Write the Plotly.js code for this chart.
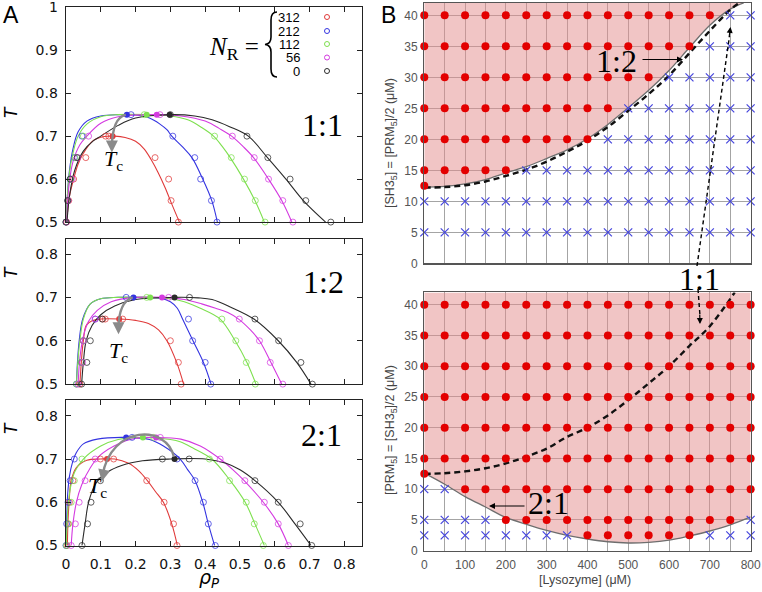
<!DOCTYPE html>
<html><head><meta charset="utf-8">
<script src="https://cdn.plot.ly/plotly-3.0.1.min.js"></script>
<style>html,body{margin:0;padding:0;background:#fff}#chart{width:762px;height:592px}</style>
</head><body><div id="chart"></div>
<script>
// ================= Panel A data (rho_P vs T) =================
const nrValues = ['312','212','112','56','0'];
const ratioLabels = ['1:1','1:2','2:1'];

// ---- ratio 1:1 ----
const a11RedRho = [0.002,0.008,0.022,0.057,0.114,0.123,0.256,0.295,0.302,0.323];
const a11RedT   = [0.5,0.55,0.6,0.65,0.7,0.7,0.65,0.6,0.55,0.5];
const a11RedFitRho = [0.002,0.01,0.022,0.035,0.05,0.079,0.11,0.14,0.17,0.2,0.225,0.245,0.265,0.285,0.305,0.326];
const a11RedFitT   = [0.5,0.56,0.6,0.635,0.66,0.69,0.699,0.7,0.697,0.688,0.67,0.645,0.615,0.58,0.54,0.5];
const a11BlueRho = [0,0.005,0.012,0.024,0.046,0.187,0.307,0.37,0.387,0.418,0.434];
const a11BlueT   = [0.5,0.55,0.6,0.65,0.7,0.75,0.7,0.65,0.6,0.55,0.5];
const a11BlueFitRho = [0.001,0.004,0.01,0.02,0.035,0.06,0.1,0.15,0.2,0.24,0.27,0.29,0.304,0.335,0.362,0.393,0.419,0.435];
const a11BlueFitT   = [0.5,0.56,0.62,0.67,0.71,0.735,0.747,0.75,0.749,0.742,0.728,0.715,0.7,0.675,0.65,0.6,0.55,0.5];
const a11GreenRho = [0,0.005,0.014,0.026,0.05,0.225,0.427,0.475,0.513,0.544,0.572];
const a11GreenT   = [0.5,0.55,0.6,0.65,0.7,0.75,0.7,0.65,0.6,0.55,0.5];
const a11GreenFitRho = [0.001,0.004,0.01,0.02,0.035,0.06,0.1,0.15,0.23,0.3,0.35,0.39,0.424,0.45,0.472,0.51,0.543,0.57];
const a11GreenFitT   = [0.5,0.56,0.615,0.66,0.7,0.728,0.745,0.75,0.75,0.747,0.738,0.72,0.7,0.675,0.65,0.6,0.55,0.5];
const a11MagRho = [0.001,0.006,0.018,0.034,0.065,0.27,0.478,0.541,0.582,0.623,0.652];
const a11MagT   = [0.5,0.55,0.6,0.65,0.7,0.75,0.7,0.65,0.6,0.55,0.5];
const a11MagFitRho = [0.002,0.008,0.02,0.04,0.06,0.1,0.15,0.26,0.33,0.4,0.44,0.476,0.51,0.539,0.582,0.62,0.649];
const a11MagFitT   = [0.5,0.58,0.64,0.68,0.7,0.73,0.745,0.75,0.747,0.735,0.718,0.7,0.675,0.65,0.6,0.55,0.5];
const a11BlackRho = [0,0.005,0.012,0.032,0.3,0.52,0.58,0.644,0.689,0.761];
const a11BlackT   = [0.5,0.55,0.6,0.65,0.75,0.7,0.65,0.6,0.55,0.5];
const a11BlackFitRho = [0.003,0.01,0.025,0.05,0.08,0.1,0.15,0.2,0.3,0.37,0.42,0.47,0.524,0.579,0.632,0.682,0.746];
const a11BlackFitT   = [0.5,0.56,0.62,0.665,0.69,0.7,0.725,0.742,0.75,0.747,0.738,0.722,0.7,0.65,0.6,0.55,0.5];
const a11CritRho = [0.134,0.175,0.232,0.261,0.298];
const a11CritT   = [0.70,0.75,0.75,0.75,0.75];

// ---- ratio 1:2 ----
const a12RedRho = [0.04,0.045,0.05,0.106,0.113,0.163,0.3,0.323,0.331];
const a12RedT   = [0.5,0.55,0.6,0.65,0.65,0.65,0.6,0.55,0.5];
const a12RedFitRho = [0.04,0.045,0.05,0.058,0.075,0.1,0.153,0.2,0.237,0.266,0.29,0.318,0.338];
const a12RedFitT   = [0.5,0.56,0.6,0.635,0.646,0.65,0.65,0.647,0.64,0.625,0.6,0.55,0.5];
const a12BlueRho = [0.03,0.044,0.05,0.084,0.173,0.352,0.364,0.4,0.416];
const a12BlueT   = [0.5,0.55,0.6,0.65,0.7,0.65,0.6,0.55,0.5];
const a12BlueFitRho = [0.03,0.033,0.038,0.048,0.07,0.1,0.15,0.22,0.27,0.3,0.32,0.335,0.365,0.395,0.417];
const a12BlueFitT   = [0.5,0.55,0.6,0.65,0.685,0.697,0.7,0.7,0.698,0.69,0.675,0.65,0.6,0.55,0.5];
const a12GreenRho = [0.03,0.044,0.05,0.232,0.448,0.488,0.518,0.544];
const a12GreenT   = [0.5,0.55,0.6,0.7,0.65,0.6,0.55,0.5];
const a12GreenFitRho = [0.03,0.034,0.04,0.05,0.07,0.1,0.15,0.24,0.3,0.34,0.386,0.443,0.486,0.52,0.546];
const a12GreenFitT   = [0.5,0.55,0.6,0.65,0.685,0.697,0.7,0.7,0.697,0.69,0.675,0.65,0.6,0.55,0.5];
const a12MagRho = [0.035,0.048,0.05,0.084,0.295,0.498,0.556,0.587,0.623];
const a12MagT   = [0.5,0.55,0.6,0.65,0.7,0.65,0.6,0.55,0.5];
const a12MagFitRho = [0.035,0.04,0.05,0.065,0.09,0.13,0.2,0.28,0.34,0.39,0.43,0.465,0.496,0.53,0.556,0.589,0.62];
const a12MagFitT   = [0.5,0.56,0.61,0.645,0.67,0.69,0.7,0.7,0.695,0.685,0.675,0.665,0.65,0.625,0.6,0.55,0.5];
const a12BlackRho = [0.045,0.06,0.07,0.104,0.355,0.543,0.611,0.675,0.708];
const a12BlackT   = [0.5,0.55,0.6,0.65,0.7,0.65,0.6,0.55,0.5];
const a12BlackFitRho = [0.045,0.05,0.058,0.075,0.1,0.14,0.2,0.31,0.38,0.42,0.472,0.54,0.61,0.663,0.704];
const a12BlackFitT   = [0.5,0.55,0.6,0.635,0.66,0.68,0.695,0.7,0.699,0.695,0.678,0.65,0.6,0.55,0.5];
const a12CritRho = [0.153,0.194,0.242,0.276,0.312];
const a12CritT   = [0.65,0.70,0.70,0.70,0.70];

// ---- ratio 2:1 ----
const a21RedRho = [0.003,0.006,0.01,0.02,0.099,0.137,0.232,0.282,0.309,0.319];
const a21RedT   = [0.5,0.55,0.6,0.65,0.7,0.7,0.65,0.6,0.55,0.5];
const a21RedFitRho = [0.004,0.006,0.009,0.015,0.03,0.06,0.1,0.14,0.18,0.21,0.234,0.257,0.28,0.304,0.32];
const a21RedFitT   = [0.5,0.56,0.6,0.65,0.68,0.697,0.7,0.7,0.69,0.672,0.65,0.625,0.6,0.55,0.5];
const a21BlueRho = [0,0.002,0.006,0.012,0.024,0.19,0.319,0.371,0.395,0.409,0.429];
const a21BlueT   = [0.5,0.55,0.6,0.65,0.7,0.75,0.7,0.65,0.6,0.55,0.5];
const a21BlueFitRho = [0,0.002,0.005,0.01,0.018,0.03,0.05,0.09,0.17,0.24,0.28,0.328,0.35,0.371,0.393,0.409,0.427];
const a21BlueFitT   = [0.5,0.56,0.62,0.66,0.69,0.715,0.735,0.746,0.75,0.745,0.73,0.7,0.675,0.65,0.6,0.55,0.5];
const a21GreenRho = [0.001,0.008,0.015,0.024,0.046,0.252,0.412,0.47,0.518,0.541,0.567];
const a21GreenT   = [0.5,0.55,0.6,0.65,0.7,0.75,0.7,0.65,0.6,0.55,0.5];
const a21GreenFitRho = [0.001,0.005,0.012,0.025,0.05,0.1,0.15,0.22,0.3,0.328,0.366,0.419,0.472,0.515,0.543,0.57];
const a21GreenFitT   = [0.5,0.58,0.63,0.67,0.7,0.73,0.745,0.75,0.745,0.74,0.725,0.7,0.65,0.6,0.55,0.5];
const a21MagRho = [0.015,0.027,0.038,0.055,0.084,0.271,0.443,0.514,0.57,0.61,0.639];
const a21MagT   = [0.5,0.55,0.6,0.65,0.7,0.75,0.7,0.65,0.6,0.55,0.5];
const a21MagFitRho = [0.015,0.02,0.03,0.045,0.07,0.1,0.15,0.2,0.26,0.33,0.386,0.443,0.48,0.512,0.567,0.61,0.639];
const a21MagFitT   = [0.5,0.55,0.6,0.64,0.68,0.71,0.735,0.748,0.75,0.746,0.73,0.7,0.675,0.65,0.6,0.55,0.5];
const a21BlackRho = [0.046,0.062,0.072,0.099,0.277,0.354,0.543,0.61,0.673,0.706];
const a21BlackT   = [0.5,0.55,0.6,0.65,0.7,0.7,0.65,0.6,0.55,0.5];
const a21BlackFitRho = [0.046,0.055,0.065,0.087,0.12,0.16,0.22,0.3,0.4,0.46,0.5,0.543,0.61,0.658,0.704];
const a21BlackFitT   = [0.5,0.55,0.6,0.645,0.67,0.685,0.696,0.7,0.7,0.69,0.675,0.65,0.6,0.55,0.5];
const a21CritRho = [0.118,0.173,0.221,0.259,0.312];
const a21CritT   = [0.70,0.75,0.75,0.75,0.70];

// ================= Panel B data (phase diagrams) =================
const lysozyme = [0,50,100,150,200,250,300,350,400,450,500,550,600,650,700,750,800];
const cornerConc = 12.5;             // extra sample at [Lysozyme]=0
// top (1:2): rows of concentration, last lysozyme value that still formed droplets
const topRowConc = [5,10,15,20,25,30,35,40];
const topRowLastDroplet = [-1,-1,200,400,450,550,650,700];
// bottom (2:1): rows, first and last lysozyme value with droplets
const botRowConc = [2.5,5,10,15,20,25,30,35,40];
const botRowFirstDroplet = [400,200,100,0,0,0,0,0,0];
const botRowLastDroplet  = [650,750,800,800,800,800,800,800,800];
// 1:2 boundary (solid gray) and 1:1 boundary (dashed) in top panel
const b12Lys  = [0,50,100,150,200,250,300,350,400,450,500,550,600,650,700,750,783];
const b12Conc = [12.3,12.4,12.8,13.5,14.6,15.6,16.9,18.3,20.1,22.4,25.1,27.9,31.1,34.8,38.4,41.0,42];
const d11TopLys  = [0,50,100,150,200,250,300,350,400,450,500,550,600,650,700,750,772];
const d11TopConc = [12.2,12.3,12.6,13.2,14.1,15.1,16.4,18.0,19.8,22.0,24.6,27.3,30.3,33.9,37.5,40.9,42];
// 2:1 boundary (solid gray) and 1:1 boundary (dashed) in bottom panel
const b21Lys  = [0,50,100,150,200,250,300,350,400,450,500,550,600,650,700,750,800];
const b21Conc = [12.6,10.8,8.8,7.1,5.4,4.3,3.3,2.5,1.9,1.45,1.25,1.35,1.7,2.4,3.2,4.2,5.5];
const d11BotLys  = [0,50,100,150,200,250,300,350,400,450,500,550,600,650,700,761];
const d11BotConc = [12.5,12.6,12.9,13.4,14.2,15.3,16.6,18.5,20.0,22.0,24.5,27.2,30.0,33.3,36.5,42];
const concMax = 42;

// ================= styles =================
const W = 762, H = 592;
const seriesColors = ['#e03a3a','#3434e0','#7ee04f','#d43ae0','#2a2a2a'];
const serif = 'Liberation Serif, Times New Roman, serif';
const sans = 'DejaVu Sans, Arial, sans-serif';
const sansB = 'Liberation Sans, Arial, sans-serif';
const px = v => v / W;
const py = v => 1 - v / H;

const traces = [];
const panelsA = [
  {xa:'x', ya:'y', series:[
    [a11RedRho,a11RedT,a11RedFitRho,a11RedFitT],[a11BlueRho,a11BlueT,a11BlueFitRho,a11BlueFitT],
    [a11GreenRho,a11GreenT,a11GreenFitRho,a11GreenFitT],[a11MagRho,a11MagT,a11MagFitRho,a11MagFitT],
    [a11BlackRho,a11BlackT,a11BlackFitRho,a11BlackFitT]], crit:[a11CritRho,a11CritT]},
  {xa:'x2', ya:'y2', series:[
    [a12RedRho,a12RedT,a12RedFitRho,a12RedFitT],[a12BlueRho,a12BlueT,a12BlueFitRho,a12BlueFitT],
    [a12GreenRho,a12GreenT,a12GreenFitRho,a12GreenFitT],[a12MagRho,a12MagT,a12MagFitRho,a12MagFitT],
    [a12BlackRho,a12BlackT,a12BlackFitRho,a12BlackFitT]], crit:[a12CritRho,a12CritT]},
  {xa:'x3', ya:'y3', series:[
    [a21RedRho,a21RedT,a21RedFitRho,a21RedFitT],[a21BlueRho,a21BlueT,a21BlueFitRho,a21BlueFitT],
    [a21GreenRho,a21GreenT,a21GreenFitRho,a21GreenFitT],[a21MagRho,a21MagT,a21MagFitRho,a21MagFitT],
    [a21BlackRho,a21BlackT,a21BlackFitRho,a21BlackFitT]], crit:[a21CritRho,a21CritT]}
];
panelsA.forEach(p => {
  p.series.forEach((s, i) => {
    traces.push({type:'scatter', mode:'lines', x:s[2], y:s[3], xaxis:p.xa, yaxis:p.ya,
      line:{color:seriesColors[i], width:1.1, shape:'spline', smoothing:1}, showlegend:false, hoverinfo:'skip'});
  });
  p.series.forEach((s, i) => {
    traces.push({type:'scatter', mode:'markers', x:s[0], y:s[1], xaxis:p.xa, yaxis:p.ya, cliponaxis:false,
      name:'N_R=' + nrValues[i],
      marker:{symbol:'circle-open', size:6, color:seriesColors[i], opacity:0.75, line:{width:1}}, showlegend:false});
  });
  traces.push({type:'scatter', mode:'markers', x:p.crit[0], y:p.crit[1], xaxis:p.xa, yaxis:p.ya,
    marker:{symbol:'circle', size:6, color:seriesColors}, showlegend:false});
});

// ---- Panel B traces ----
function bPoints(rowConc, isDroplet) {
  const red = {x:[], y:[]}, blue = {x:[], y:[]};
  rowConc.forEach((c, i) => lysozyme.forEach(l => {
    const t = isDroplet(i, l) ? red : blue; t.x.push(l); t.y.push(c);
  }));
  red.x.push(0); red.y.push(cornerConc);
  return [red, blue];
}
const topPts = bPoints(topRowConc, (i, l) => l <= topRowLastDroplet[i]);
const botPts = bPoints(botRowConc, (i, l) => l >= botRowFirstDroplet[i] && l <= botRowLastDroplet[i]);
const fillColor = 'rgba(228,140,140,0.5)';
function bTraces(xa, ya, bLys, bConc, dLys, dConc, pts) {
  traces.push({type:'scatter', mode:'lines', x:bLys, y:bLys.map(() => concMax), xaxis:xa, yaxis:ya,
    line:{width:0, color:'rgba(0,0,0,0)'}, showlegend:false, hoverinfo:'skip'});
  traces.push({type:'scatter', mode:'lines', x:bLys, y:bConc, xaxis:xa, yaxis:ya, fill:'tonexty', fillcolor:fillColor,
    line:{color:'#6e6e6e', width:1.3, shape:'spline'}, showlegend:false});
  traces.push({type:'scatter', mode:'lines', x:dLys, y:dConc, xaxis:xa, yaxis:ya,
    line:{color:'#111', width:2.4, dash:'6px,4px', shape:'spline'}, showlegend:false});
  traces.push({type:'scatter', mode:'markers', x:pts[0].x, y:pts[0].y, xaxis:xa, yaxis:ya, cliponaxis:false,
    marker:{symbol:'circle', size:8, color:'#e30000'}, showlegend:false, name:'droplets'});
  traces.push({type:'scatter', mode:'markers', x:pts[1].x, y:pts[1].y, xaxis:xa, yaxis:ya, cliponaxis:false,
    marker:{symbol:'x-thin-open', size:8, color:'#4545dd', line:{width:1.2, color:'#4545dd'}}, showlegend:false, name:'no droplets'});
}
bTraces('x4','y4', b12Lys, b12Conc, d11TopLys, d11TopConc, topPts);
bTraces('x5','y5', b21Lys, b21Conc, d11BotLys, d11BotConc, botPts);

// ---- axes ----
const axA = (anchor, labels) => ({anchor, domain:[0.0862,0.4748], range:[-0.0008,0.85], tick0:0, dtick:0.1,
  ticks:'inside', ticklen:5, tickcolor:'#222', showline:true, linecolor:'#222', linewidth:1, mirror:'ticks',
  showgrid:false, zeroline:false, showticklabels:labels, ticklabelstandoff:5, ticklabeloverflow:'allow',
  tickfont:{family:sans, size:14, color:'#111'}});
const ayA = (anchor, domain, top) => ({anchor, domain, range:[0.4995, top], tick0:0.5, dtick:0.1,
  ticks:'inside', ticklen:5, tickcolor:'#222', showline:true, linecolor:'#222', linewidth:1, mirror:'ticks',
  showgrid:false, zeroline:false, ticklabelstandoff:4, ticklabeloverflow:'allow',
  tickfont:{family:sans, size:14, color:'#111'}});
const gridC = '#a4a4a4';
const axB = (anchor, labels) => ({anchor, domain:[0.5568,0.9851], range:[0,800], dtick:100,
  showgrid:true, gridcolor:gridC, gridwidth:1, minor:{dtick:50, showgrid:true, gridcolor:gridC, gridwidth:1},
  ticks:'', showline:true, linecolor:'#555', linewidth:1.2, mirror:true, zeroline:false,
  showticklabels:labels, ticklabelstandoff:3, ticklabeloverflow:'allow', tickfont:{family:sansB, size:12, color:'#555'}});
const ayB = (anchor, domain) => ({anchor, domain, range:[0, concMax], dtick:5,
  showgrid:true, gridcolor:gridC, gridwidth:1, ticks:'', showline:true, linecolor:'#555', linewidth:1.2, mirror:true,
  zeroline:false, ticklabelstandoff:3, ticklabeloverflow:'allow', tickfont:{family:sansB, size:12, color:'#555'}});

// ---- annotations ----
const A = (text, x, y, font, extra) => Object.assign({text, x:px(x), y:py(y), xref:'paper', yref:'paper',
  showarrow:false, xanchor:'center', yanchor:'middle', font}, extra || {});
const ratioFont = {family:serif, size:32, color:'#000'};
const annotations = [
  A('A', 11, 15, {family:sansB, size:23, color:'#000'}),
  A('B', 388, 15, {family:sansB, size:23, color:'#000'}),
  A('<i>T</i>', 11, 112, {family:sans, size:17, color:'#000'}, {textangle:-90}),
  A('<i>T</i>', 11, 272, {family:sans, size:17, color:'#000'}, {textangle:-90}),
  A('<i>T</i>', 11, 428, {family:sans, size:17, color:'#000'}, {textangle:-90}),
  A('<i>ρ<sub>P</sub></i>', 209, 578, {family:sans, size:19, color:'#000'}),
  A(ratioLabels[0], 322, 125, ratioFont),
  A(ratioLabels[1], 323, 282, ratioFont),
  A(ratioLabels[2], 321, 435, ratioFont),
  A('<i>T</i><sub>c</sub>', 113, 160, {family:serif, size:22, color:'#000'}),
  A('<i>T</i><sub>c</sub>', 118, 352, {family:serif, size:22, color:'#000'}),
  A('<i>T</i><sub>c</sub>', 97, 487, {family:serif, size:22, color:'#000'}),
  A('<i>N</i><sub>R</sub> =', 234, 48, {family:serif, size:25, color:'#000'}),
  A(ratioLabels[1], 616, 61, ratioFont),
  A(ratioLabels[0], 699, 279, ratioFont),
  A(ratioLabels[2], 548, 503, ratioFont),
  A('[SH3<sub>5</sub>] = [PRM<sub>5</sub>]/2 (μM)', 391, 143, {family:sansB, size:12.5, color:'#444'}, {textangle:-90}),
  A('[PRM<sub>5</sub>] = [SH3<sub>5</sub>]/2 (μM)', 391, 430, {family:sansB, size:12.5, color:'#444'}, {textangle:-90}),
  A('[Lysozyme] (μM)', 585, 580, {family:sansB, size:12.5, color:'#444'})
];
const legendY = [17, 31, 44, 57.5, 71];
nrValues.forEach((v, i) => {
  annotations.push(A(v, 302, legendY[i], {family:sansB, size:13, color:'#000'}, {xanchor:'right'}));
});
// arrows (heads)
const head = (x, y, ax, ay, color, width, xref, yref) => ({x, y, ax, ay, xref, yref, text:'', showarrow:true,
  arrowhead:2, arrowsize:1, arrowwidth:width, arrowcolor:color});
annotations.push(head(0.132, 0.662, 0, -10, '#8a8a8a', 2.4, 'x', 'y'));
annotations.push(head(0.151, 0.615, 0, -10, '#8a8a8a', 2.4, 'x2', 'y2'));
annotations.push(head(0.103, 0.648, 2, -10, '#8a8a8a', 2.4, 'x3', 'y3'));
annotations.push(head(px(683), py(59.5), -42, 0, '#000', 1.2, 'paper', 'paper'));
annotations.push(head(px(489), py(506), 37, 0, '#000', 1.2, 'paper', 'paper'));
annotations.push(head(px(730.5), py(27), -1.5, 11, '#000', 1.2, 'paper', 'paper'));
annotations.push(head(px(700), py(324), -0.3, -11, '#000', 1.2, 'paper', 'paper'));

// curly brace of the N_R legend (pixel points converted to paper)
const P = (x, y) => `${px(x)},${py(y)}`;
const bracePath = `M ${P(277,12)} Q ${P(271,12)} ${P(271,20)} L ${P(271,37)} Q ${P(271,44)} ${P(265,44.5)} ` +
  `Q ${P(271,45)} ${P(271,52)} L ${P(271,69)} Q ${P(271,77)} ${P(277,77)}`;

const shapes = [
  {type:'path', xref:'x', yref:'y', path:'M 0.172,0.75 Q 0.133,0.742 0.132,0.675', line:{color:'#8a8a8a', width:2.4}},
  {type:'path', xref:'x2', yref:'y2', path:'M 0.192,0.7 Q 0.152,0.69 0.151,0.63', line:{color:'#8a8a8a', width:2.4}},
  {type:'path', xref:'x3', yref:'y3', path:'M 0.31,0.705 C 0.29,0.78 0.13,0.78 0.105,0.662', line:{color:'#8a8a8a', width:2.4}},
  {type:'path', xref:'paper', yref:'paper',
   path:`M ${px(697)},${py(266)} L ${px(729.5)},${py(36)} M ${px(698)},${py(289)} L ${px(700)},${py(316)}`,
   line:{color:'#000', width:1.4, dash:'4px,3px'}},
  {type:'path', xref:'paper', yref:'paper', path:bracePath, line:{color:'#000', width:1.6}}
];
// legend marker circles (open, series colours)
legendY.forEach((y, i) => {
  shapes.push({type:'circle', xref:'paper', yref:'paper', x0:px(324.5), x1:px(329.5), y0:py(y + 2.5), y1:py(y - 2.5),
    line:{color:seriesColors[i], width:1}});
});

const layout = {
  width:W, height:H, margin:{l:0, r:0, t:0, b:0}, paper_bgcolor:'#fff', plot_bgcolor:'rgba(0,0,0,0)',
  showlegend:false,
  xaxis: axA('y', false), yaxis: ayA('x', [0.6245,0.9882], 1.0005),
  xaxis2: axA('y2', false), yaxis2: ayA('x2', [0.3508,0.5958], 0.834),
  xaxis3: axA('y3', true), yaxis3: ayA('x3', [0.0782,0.3243], 0.8365),
  xaxis4: axB('y4', false), yaxis4: ayB('x4', [0.5552,0.9951]),
  xaxis5: axB('y5', true), yaxis5: ayB('x5', [0.0698,0.5061]),
  annotations, shapes
};
Plotly.newPlot('chart', traces, layout, {staticPlot:true, displayModeBar:false});
</script></body></html>
